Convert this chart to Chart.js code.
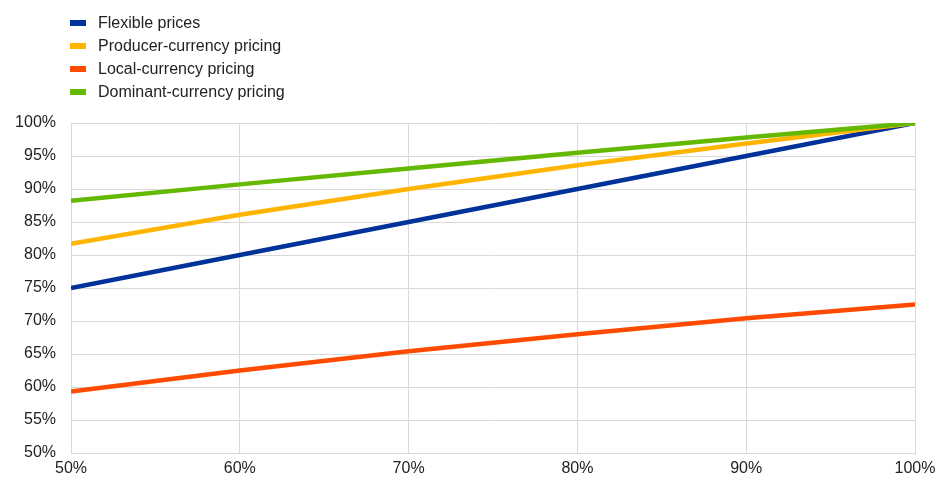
<!DOCTYPE html>
<html>
<head>
<meta charset="utf-8">
<script src="https://cdn.jsdelivr.net/npm/chart.js@4/dist/chart.umd.min.js"></script>
<style>
  html, body { margin: 0; padding: 0; background: #fff; }
  #wrap { position: relative; width: 936px; height: 479px; }
  #legend { position: absolute; left: 70px; top: 11px; font: 16px "Liberation Sans", Arial, sans-serif; color: #222; }
  #legend div { height: 23px; line-height: 23px; white-space: nowrap; }
  #legend span { display: inline-block; width: 16px; height: 6px; margin-right: 12px; vertical-align: middle; position: relative; top: -1px; }
</style>
</head>
<body>
<div id="wrap">
  <canvas id="chart" width="936" height="479"></canvas>
  <div id="legend"></div>
</div>
<script>
"use strict";

// Data

var xValues = [50, 60, 70, 80, 90, 100];

var seriesNames = ["Flexible prices", "Producer-currency pricing",
	"Local-currency pricing", "Dominant-currency pricing"];

var flexible = [75, 80, 85, 90, 95, 100],
	producer = [81.7, 86.1, 90.0, 93.6, 96.9, 100],
	local = [59.3, 62.5, 65.4, 68.0, 70.4, 72.5],
	dominant = [88.2, 90.7, 93.1, 95.5, 97.8, 100];

var seriesColors = ["#003299", "#ffb400", "#ff4b00", "#65b800"];

// Chart

function toPoints(values) {
	return values.map(function (v, i) { return { x: xValues[i], y: v }; });
}

var allSeries = [flexible, producer, local, dominant];

var datasets = allSeries.map(function (values, i) {
	return {
		label: seriesNames[i],
		data: toPoints(values),
		borderColor: seriesColors[i],
		backgroundColor: seriesColors[i],
		borderWidth: 4.5,
		pointRadius: 0,
		tension: 0
	};
});

// draw order: local, flexible, producer, dominant on top
var order = [2, 0, 1, 3];
order.forEach(function (idx, pos) { datasets[idx].order = order.length - pos; });

var tickFont = { family: "'Liberation Sans', Arial, sans-serif", size: 16 };

new Chart(document.getElementById("chart"), {
	type: "line",
	data: { datasets: datasets },
	options: {
		responsive: false,
		animation: false,
		layout: { padding: { top: 123, right: 0, left: 0, bottom: 0 } },
		plugins: { legend: { display: false }, tooltip: { enabled: false } },
		scales: {
			x: {
				type: "linear",
				min: 50,
				max: 100,
				ticks: {
					stepSize: 10,
					font: tickFont,
					color: "#222",
					padding: 6,
					callback: function (v) { return v + "%"; }
				},
				grid: { color: "#d9d9d9", lineWidth: 1, drawTicks: false },
				border: { color: "#d9d9d9" },
				afterFit: function (s) {
					s.height = 26;
					s.paddingLeft = 0;
					s.paddingRight = 21;
				}
			},
			y: {
				min: 50,
				max: 100,
				ticks: {
					stepSize: 5,
					font: tickFont,
					color: "#222",
					padding: 15,
					callback: function (v) { return v + "%"; }
				},
				grid: { color: "#d9d9d9", lineWidth: 1, drawTicks: false },
				border: { color: "#d9d9d9" },
				afterFit: function (s) { s.width = 71; }
			}
		}
	}
});

// HTML legend
var legend = document.getElementById("legend");
seriesNames.forEach(function (name, i) {
	var row = document.createElement("div");
	var box = document.createElement("span");
	box.style.background = seriesColors[i];
	row.appendChild(box);
	row.appendChild(document.createTextNode(name));
	legend.appendChild(row);
});
</script>
</body>
</html>
